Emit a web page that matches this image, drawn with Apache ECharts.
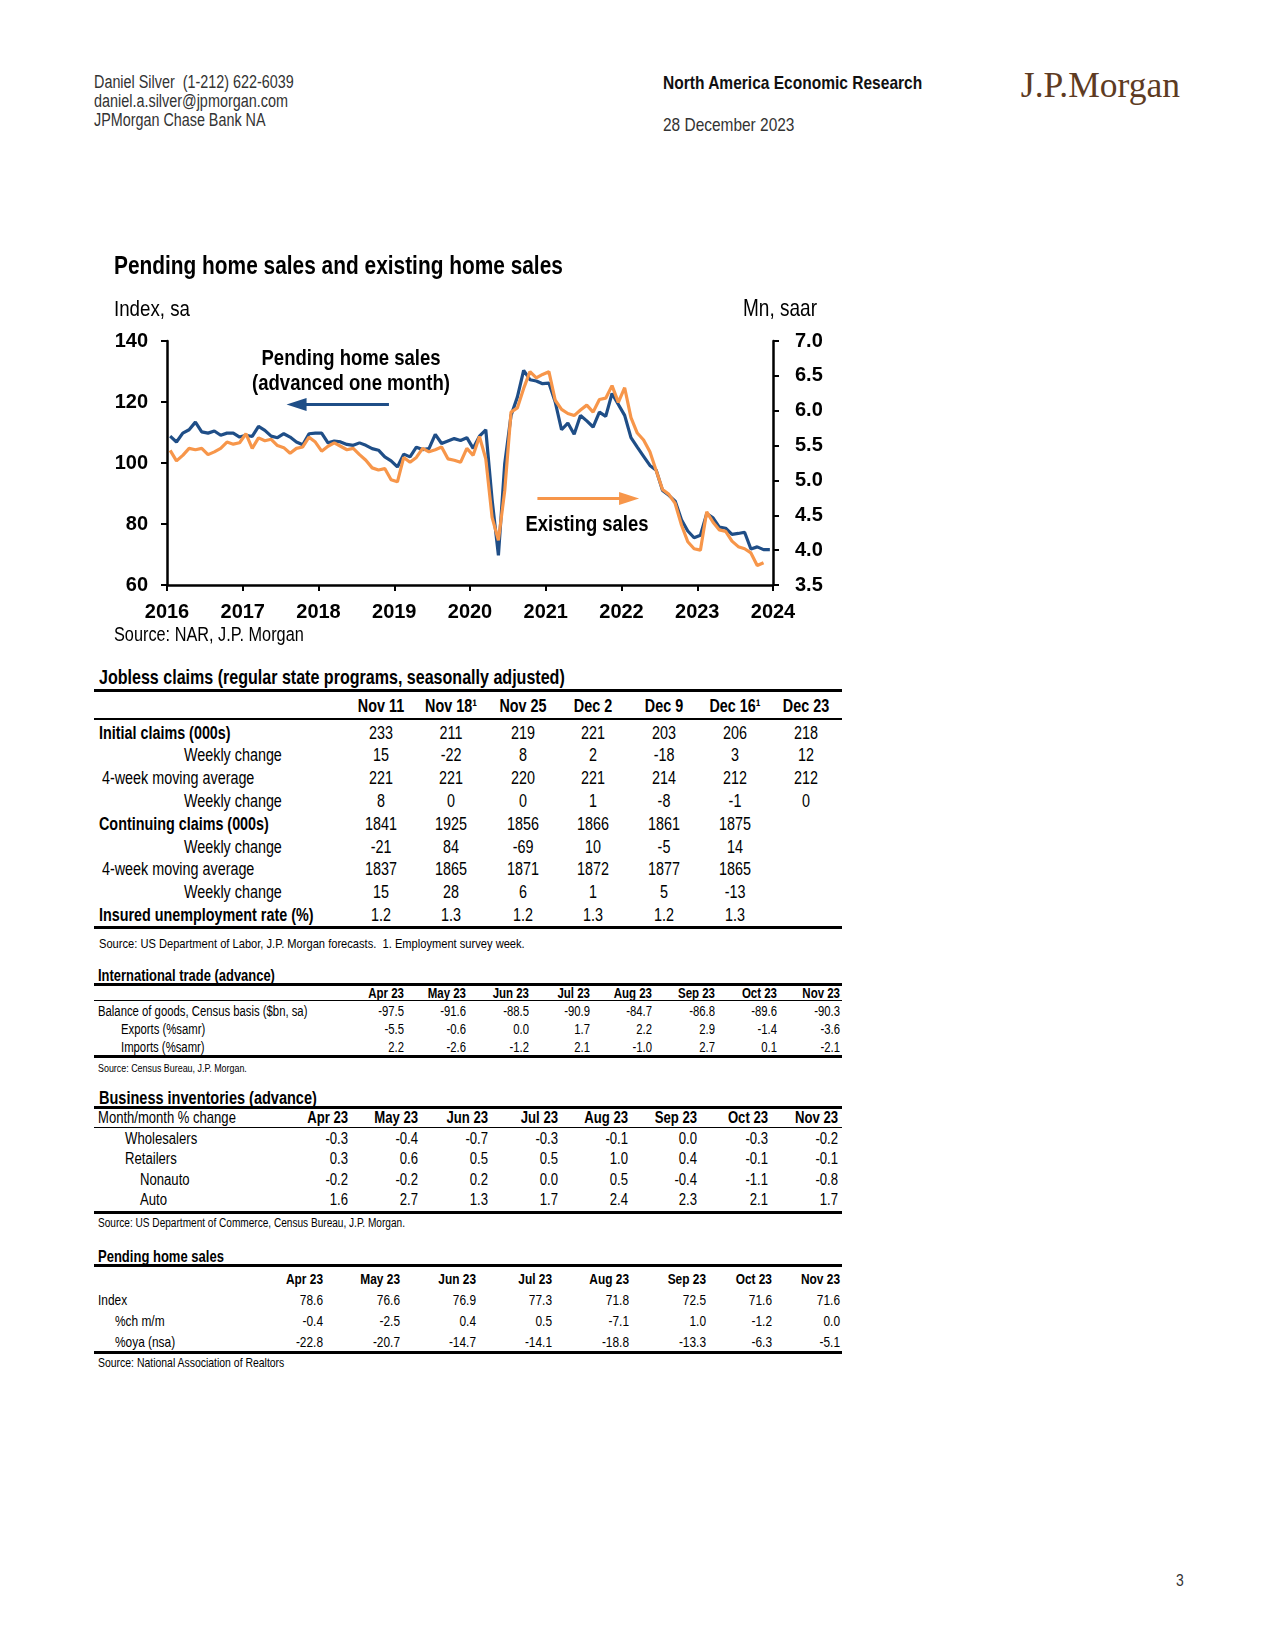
<!DOCTYPE html>
<html>
<head>
<meta charset="utf-8">
<script src="https://cdn.jsdelivr.net/npm/echarts@6/dist/echarts.min.js"></script>
<style>
  html, body { margin: 0; padding: 0; background: #fff; }
  body { width: 1275px; height: 1650px; position: relative; overflow: hidden;
         font-family: 'Liberation Sans', Arial, sans-serif; color: #000; }
  .t { position: absolute; white-space: pre; line-height: 1; }
  .rule { position: absolute; background: #000; }
  #chart { position: absolute; left: 0; top: 240px; width: 860px; height: 420px; }
</style>
</head>
<body>
<div id="chart"></div>
<script>
// ---------------- DATA ----------------
const startYear = 2016;
const xYears = [2016, 2017, 2018, 2019, 2020, 2021, 2022, 2023, 2024];
const leftTicks = [60, 80, 100, 120, 140];
const rightTicks = [3.5, 4.0, 4.5, 5.0, 5.5, 6.0, 6.5, 7.0];

// Pending home sales index (advanced one month), monthly from Jan 2016
const pendingAdv = [
  108.8, 106.9, 109.8, 110.9, 113.4, 110.2, 109.8, 110.5, 109.1, 109.8, 109.8, 108.5,
  109.1, 108.7, 112.0, 110.7, 108.8, 108.3, 109.6, 108.5, 106.9, 106.0, 109.6, 109.8,
  109.8, 106.6, 107.2, 106.9, 106.1, 105.8, 106.6, 105.8, 104.7, 104.2, 102.0, 100.7,
  98.7, 102.9, 102.0, 105.2, 104.4, 104.7, 109.4, 106.4, 107.2, 108.0, 107.4, 108.3,
  104.8, 108.8, 110.9, 88.0, 69.7, 99.8, 115.6, 121.6, 130.4, 127.3, 126.9, 126.0,
  126.2, 120.0, 110.9, 113.1, 109.4, 115.6, 113.8, 111.8, 116.7, 115.3, 122.8, 119.2,
  115.6, 108.3, 105.2, 102.2, 99.2, 97.6, 91.0, 89.4, 87.5, 81.4, 77.7, 75.5,
  76.3, 83.4, 82.0, 79.0, 78.6, 76.6, 76.9, 77.3, 71.8, 72.5, 71.6, 71.6
];
// Existing home sales, Mn saar, monthly from Jan 2016
const existingSales = [
  5.43, 5.28, 5.36, 5.46, 5.44, 5.46, 5.37, 5.41, 5.46, 5.55, 5.52, 5.54,
  5.67, 5.46, 5.61, 5.57, 5.59, 5.50, 5.47, 5.39, 5.46, 5.48, 5.62, 5.55,
  5.42, 5.49, 5.54, 5.49, 5.44, 5.46, 5.37, 5.29, 5.18, 5.15, 5.17, 5.01,
  4.98, 5.33, 5.26, 5.33, 5.46, 5.41, 5.44, 5.48, 5.31, 5.29, 5.26, 5.46,
  5.36, 5.63, 5.31, 4.47, 4.14, 4.85, 5.98, 6.04, 6.32, 6.56, 6.47, 6.52,
  6.56, 6.15, 6.02, 5.96, 5.93, 6.01, 6.08, 5.98, 6.16, 6.18, 6.36, 6.12,
  6.33, 5.90, 5.68, 5.58, 5.41, 5.14, 4.87, 4.80, 4.67, 4.36, 4.12, 4.02,
  4.00, 4.55, 4.40, 4.29, 4.27, 4.13, 4.05, 4.02, 3.96, 3.78, 3.82
];
// Annotation arrows (data space): [x from, x to, level]
const pendingArrow = [2018.93, 2017.71, 119.2];
const existingArrow = [2020.89, 2022.10, 4.74];

// Jobless claims table
const jobWeeks = ['Nov 11', 'Nov 18\u00b9', 'Nov 25', 'Dec 2', 'Dec 9', 'Dec 16\u00b9', 'Dec 23'];
const initialClaims = [233, 211, 219, 221, 203, 206, 218];
const initialChange = [15, -22, 8, 2, -18, 3, 12];
const initial4wk = [221, 221, 220, 221, 214, 212, 212];
const initial4wkChange = [8, 0, 0, 1, -8, -1, 0];
const contClaims = [1841, 1925, 1856, 1866, 1861, 1875];
const contChange = [-21, 84, -69, 10, -5, 14];
const cont4wk = [1837, 1865, 1871, 1872, 1877, 1865];
const cont4wkChange = [15, 28, 6, 1, 5, -13];
const insuredRate = [1.2, 1.3, 1.2, 1.3, 1.2, 1.3];

// Monthly tables
const months23 = ['Apr 23', 'May 23', 'Jun 23', 'Jul 23', 'Aug 23', 'Sep 23', 'Oct 23', 'Nov 23'];
const goodsBalance = [-97.5, -91.6, -88.5, -90.9, -84.7, -86.8, -89.6, -90.3];
const exportsChg = [-5.5, -0.6, 0.0, 1.7, 2.2, 2.9, -1.4, -3.6];
const importsChg = [2.2, -2.6, -1.2, 2.1, -1.0, 2.7, 0.1, -2.1];

const invWholesalers = [-0.3, -0.4, -0.7, -0.3, -0.1, 0.0, -0.3, -0.2];
const invRetailers = [0.3, 0.6, 0.5, 0.5, 1.0, 0.4, -0.1, -0.1];
const invNonauto = [-0.2, -0.2, 0.2, 0.0, 0.5, -0.4, -1.1, -0.8];
const invAuto = [1.6, 2.7, 1.3, 1.7, 2.4, 2.3, 2.1, 1.7];

const phsIndex = [78.6, 76.6, 76.9, 77.3, 71.8, 72.5, 71.6, 71.6];
const phsMoM = [-0.4, -2.5, 0.4, 0.5, -7.1, 1.0, -1.2, 0.0];
const phsYoY = [-22.8, -20.7, -14.7, -14.1, -18.8, -13.3, -6.3, -5.1];

// ---------------- TEXT HELPERS (narrow = Liberation Sans condensed) ----------------
const SX = 0.82;
const FAM = "'Liberation Sans', Arial, sans-serif";
const mctx = document.createElement('canvas').getContext('2d');
function fitSize(s, bold, w) {
  mctx.font = (bold ? 'bold ' : '') + '100px ' + FAM;
  const m = mctx.measureText(s).width;
  return w / (m / 100 * SX);
}
function txt(x, yc, s, o) {
  o = o || {};
  const d = document.createElement('div');
  d.className = 't';
  d.textContent = s;
  const size = o.w ? fitSize(s, o.bold, o.w) : (o.size || 14);
  d.style.fontSize = size.toFixed(2) + 'px';
  if (o.bold) d.style.fontWeight = 'bold';
  if (o.color) d.style.color = o.color;
  const a = o.align || 'left';
  const tx = a === 'left' ? '0' : (a === 'center' ? '-50%' : '-100%');
  d.style.left = x + 'px';
  d.style.top = yc + 'px';
  if (o.font) {
    d.style.fontFamily = o.font;
    d.style.transform = 'translate(' + tx + ', -50%)';
  } else {
    d.style.transformOrigin = a + ' center';
    d.style.transform = 'translate(' + tx + ', -50%) scaleX(' + SX + ')';
  }
  document.body.appendChild(d);
  return d;
}
function rule(x1, x2, y, h) {
  const d = document.createElement('div');
  d.className = 'rule';
  d.style.left = x1 + 'px';
  d.style.width = (x2 - x1) + 'px';
  d.style.top = y + 'px';
  d.style.height = h + 'px';
  document.body.appendChild(d);
}
const f1 = v => v.toFixed(1);
const f0 = v => String(v);

// Header
txt(94, 83, 'Daniel Silver  (1-212) 622-6039', { w: 200, color: '#333' });
txt(94, 102, 'daniel.a.silver@jpmorgan.com', { w: 194, color: '#333' });
txt(94, 121, 'JPMorgan Chase Bank NA', { w: 171.5, color: '#333' });
txt(663, 83, 'North America Economic Research', { w: 260, bold: true, color: '#111' });
txt(663, 125, '28 December 2023', { w: 131.5, color: '#333' });
txt(1180, 86, 'J.P.Morgan', { size: 35.5, align: 'right', color: '#5e3b22', font: "'Liberation Serif', 'DejaVu Serif', serif" });
txt(1176, 1580, '3', { size: 17, color: '#333' });

// Table 1: Jobless claims
(function () {
  const cols = [381, 451, 523, 593, 664, 735, 806];
  const fs = 17.5;
  txt(99, 678, 'Jobless claims (regular state programs, seasonally adjusted)', { w: 466, bold: true });
  rule(94, 842, 689, 3);
  jobWeeks.forEach((w, i) => txt(cols[i], 706.5, w, { size: fs, bold: true, align: 'center' }));
  rule(94, 842, 718, 2);
  const rows = [
    ['Initial claims (000s)', 99, true, initialClaims, f0],
    ['Weekly change', 184, false, initialChange, f0],
    ['4-week moving average', 102, false, initial4wk, f0],
    ['Weekly change', 184, false, initial4wkChange, f0],
    ['Continuing claims (000s)', 99, true, contClaims, f0],
    ['Weekly change', 184, false, contChange, f0],
    ['4-week moving average', 102, false, cont4wk, f0],
    ['Weekly change', 184, false, cont4wkChange, f0],
    ['Insured unemployment rate (%)', 99, true, insuredRate, f1]
  ];
  rows.forEach((r, k) => {
    const y = 733.5 + k * 22.8;
    txt(r[1], y, r[0], { size: fs, bold: r[2] });
    r[3].forEach((v, i) => txt(cols[i], y, r[4](v), { size: fs, align: 'center' }));
  });
  rule(94, 842, 926, 3);
  txt(99, 943.5, 'Source: US Department of Labor, J.P. Morgan forecasts.  1. Employment survey week.', { w: 426 });
})();

// Table 2: International trade
(function () {
  const cols = [404, 466, 529, 590, 652, 715, 777, 840];
  txt(98, 976, 'International trade (advance)', { w: 177, bold: true });
  rule(94, 842, 983, 2.5);
  months23.forEach((m, i) => txt(cols[i], 992.5, m, { size: 14, bold: true, align: 'right' }));
  rule(94, 842, 1000, 1);
  const rows = [
    ['Balance of goods, Census basis ($bn, sa)', 98, goodsBalance],
    ['Exports (%samr)', 121, exportsChg],
    ['Imports (%samr)', 121, importsChg]
  ];
  rows.forEach((r, k) => {
    const y = 1011.5 + k * 18;
    txt(r[1], y, r[0], { size: 13.8 });
    r[2].forEach((v, i) => txt(cols[i], y, f1(v), { size: 13.8, align: 'right' }));
  });
  rule(94, 842, 1055, 2.5);
  txt(98, 1067.5, 'Source: Census Bureau, J.P. Morgan.', { w: 149 });
})();

// Table 3: Business inventories
(function () {
  const cols = [348, 418, 488, 558, 628, 697, 768, 838];
  txt(99, 1099, 'Business inventories (advance)', { w: 218, bold: true });
  rule(94, 842, 1106, 2.5);
  txt(98, 1117.5, 'Month/month % change', { w: 138 });
  months23.forEach((m, i) => txt(cols[i], 1117.5, m, { size: 16, bold: true, align: 'right' }));
  rule(94, 842, 1127, 1);
  const rows = [
    ['Wholesalers', 125, invWholesalers],
    ['Retailers', 125, invRetailers],
    ['Nonauto', 140, invNonauto],
    ['Auto', 140, invAuto]
  ];
  rows.forEach((r, k) => {
    const y = 1138.5 + k * 20.6;
    txt(r[1], y, r[0], { size: 16 });
    r[2].forEach((v, i) => txt(cols[i], y, f1(v), { size: 16, align: 'right' }));
  });
  rule(94, 842, 1211, 2.5);
  txt(98, 1222.5, 'Source: US Department of Commerce, Census Bureau, J.P. Morgan.', { w: 307 });
})();

// Table 4: Pending home sales
(function () {
  const cols = [323, 400, 476, 552, 629, 706, 772, 840];
  txt(98, 1257, 'Pending home sales', { w: 126, bold: true });
  rule(94, 842, 1264, 2.5);
  months23.forEach((m, i) => txt(cols[i], 1278.5, m, { size: 14.5, bold: true, align: 'right' }));
  const rows = [
    ['Index', 98, phsIndex],
    ['%ch m/m', 115, phsMoM],
    ['%oya (nsa)', 115, phsYoY]
  ];
  rows.forEach((r, k) => {
    const y = 1299.5 + k * 21;
    txt(r[1], y, r[0], { size: 14.5 });
    r[2].forEach((v, i) => txt(cols[i], y, f1(v), { size: 14.5, align: 'right' }));
  });
  rule(94, 842, 1351, 2.5);
  txt(98, 1362.5, 'Source: National Association of Realtors', { w: 187 });
})();

// ---------------- CHART ----------------
const BLUE = '#1f4e87';
const ORANGE = '#f7964a';
const toXY = arr => arr.map((v, i) => [startYear + (i + 0.5) / 12, v]);

function gText(s, x, y, w, bold, align) {
  const size = fitSize(s, bold, w);
  return {
    type: 'text', x: x, y: y, scaleX: SX, scaleY: 1, silent: true,
    style: { text: s, fill: '#000', font: (bold ? 'bold ' : '') + size.toFixed(2) + 'px ' + FAM,
             align: align || 'left', verticalAlign: 'middle' }
  };
}

const chart = echarts.init(document.getElementById('chart'), null, { renderer: 'canvas' });
const axisLineStyle = { color: '#000', width: 2.5 };
const tickStyle = { color: '#000', width: 2 };
const labelStyle = { color: '#000', fontSize: 20, fontWeight: 'bold', fontFamily: FAM };

chart.setOption({
  animation: false,
  backgroundColor: '#fff',
  grid: { left: 167, top: 101, width: 606, height: 244, containLabel: false },
  xAxis: {
    type: 'value', min: xYears[0], max: xYears[xYears.length - 1], interval: 1,
    axisLine: { show: true, onZero: false, lineStyle: axisLineStyle },
    axisTick: { show: true, inside: false, length: 6, lineStyle: tickStyle },
    axisLabel: { ...labelStyle, margin: 17, formatter: v => String(v) },
    splitLine: { show: false }
  },
  yAxis: [
    {
      type: 'value', position: 'left', min: leftTicks[0], max: leftTicks[leftTicks.length - 1], interval: 20,
      axisLine: { show: true, lineStyle: axisLineStyle },
      axisTick: { show: true, inside: false, length: 6, lineStyle: tickStyle },
      axisLabel: { ...labelStyle, margin: 19 },
      splitLine: { show: false }
    },
    {
      type: 'value', position: 'right', min: rightTicks[0], max: rightTicks[rightTicks.length - 1], interval: 0.5,
      axisLine: { show: true, lineStyle: axisLineStyle },
      axisTick: { show: true, inside: false, length: 6, lineStyle: tickStyle },
      axisLabel: { ...labelStyle, margin: 22, formatter: v => v.toFixed(1) },
      splitLine: { show: false }
    }
  ],
  graphic: [
    gText('Pending home sales and existing home sales', 114, 27, 449, true),
    gText('Index, sa', 114, 70, 76, false),
    gText('Mn, saar', 817, 70, 74, false, 'right'),
    gText('Source: NAR, J.P. Morgan', 114, 396, 190, false),
    gText('Pending home sales', 351, 118.5, 179, true, 'center'),
    gText('(advanced one month)', 351, 143.5, 198, true, 'center'),
    gText('Existing sales', 587, 284.5, 123, true, 'center')
  ],
  series: [
    {
      name: 'Pending home sales (advanced one month)', type: 'line', yAxisIndex: 0,
      data: toXY(pendingAdv), showSymbol: false, symbol: 'none', smooth: false,
      lineStyle: { color: BLUE, width: 3.2 }, itemStyle: { color: BLUE }, z: 2,
      markLine: {
        silent: true, symbol: ['none', 'triangle'], symbolSize: [13, 20], label: { show: false },
        lineStyle: { color: BLUE, width: 3, type: 'solid' }, animation: false,
        data: [[{ coord: [pendingArrow[0], pendingArrow[2]] }, { coord: [pendingArrow[1], pendingArrow[2]] }]]
      }
    },
    {
      name: 'Existing sales', type: 'line', yAxisIndex: 1,
      data: toXY(existingSales), showSymbol: false, symbol: 'none', smooth: false,
      lineStyle: { color: ORANGE, width: 3.2 }, itemStyle: { color: ORANGE }, z: 3,
      markLine: {
        silent: true, symbol: ['none', 'triangle'], symbolSize: [13, 20], label: { show: false },
        lineStyle: { color: ORANGE, width: 3, type: 'solid' }, animation: false,
        data: [[{ coord: [existingArrow[0], existingArrow[2]] }, { coord: [existingArrow[1], existingArrow[2]] }]]
      }
    }
  ]
});
</script>
</body>
</html>
